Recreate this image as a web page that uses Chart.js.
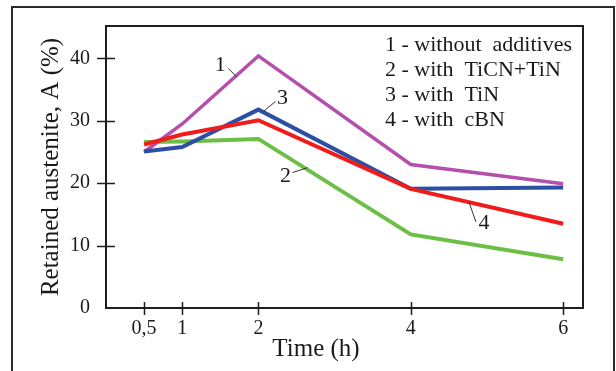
<!DOCTYPE html>
<html>
<head>
<meta charset="utf-8">
<script src="https://cdn.jsdelivr.net/npm/chart.js@4.4.1/dist/chart.umd.min.js"></script>
<style>
  html, body { margin: 0; padding: 0; background: #fff; overflow: hidden; }
  #wrap { position: relative; width: 616px; height: 371px; }
  #frame { position: absolute; left: 11px; top: 6px; width: 600px; height: 420px; border: 2px solid #2b2b2b; pointer-events: none; }
  canvas { position: absolute; left: 0; top: 0; }
</style>
</head>
<body>
<div id="wrap">
  <canvas id="chart" width="616" height="371"></canvas>
  <div id="frame"></div>
</div>
<script>
const timeHours = [0.5, 1, 2, 4, 6];
const tickLabels = ['0,5', '1', '2', '4', '6'];
const yTicks = [0, 10, 20, 30, 40];
const seriesNames = ['1 - without  additives', '2 - with  TiCN+TiN', '3 - with  TiN', '4 - with  cBN'];
const withoutAdditives = [25.0, 29.5, 40.4, 23.0, 19.9];
const withTiCN = [26.6, 26.7, 27.1, 11.8, 7.8];
const withTiN = [25.1, 25.8, 31.8, 19.1, 19.3];
const withCBN = [26.2, 27.8, 30.1, 19.1, 13.5];
const lineColors = ['#b54fae', '#6cbf45', '#2c4fa3', '#f01c1c'];

// curve numbers with their little leader lines (data units)
const curveNumbers = ['1', '2', '3', '4'];
const numberAt = [[1.5, 38.9], [2.355, 21.2], [2.316, 33.7], [4.96, 13.65]];
const leaderFrom = [[1.605, 38.4], [2.447, 21.7], [2.224, 33.1], [4.855, 13.8]];
const leaderTo = [[1.71, 37.1], [2.645, 22.5], [2.066, 31.5], [4.763, 17.0]];

const serif = '"Liberation Serif", "Times New Roman", serif';
const textColor = '#1a1a1a';

const allSeries = [withoutAdditives, withTiCN, withTiN, withCBN];
const drawOrder = [3, 4, 2, 1];

const decor = {
    id: 'decor',
    afterDatasetsDraw(chart) {
        const { ctx, chartArea: a, scales: { x, y } } = chart;
        ctx.save();
        ctx.strokeStyle = '#1e1e1e';
        ctx.lineWidth = 2;
        ctx.strokeRect(a.left, a.top, a.right - a.left, a.bottom - a.top);

        // ticks crossing the axes
        ctx.lineWidth = 1.5;
        ctx.beginPath();
        timeHours.forEach(t => {
            const px = Math.round(x.getPixelForValue(t)) + 0.5;
            ctx.moveTo(px, a.bottom - 6);
            ctx.lineTo(px, a.bottom + 7);
        });
        yTicks.slice(1).forEach(v => {
            const py = Math.round(y.getPixelForValue(v)) + 0.5;
            ctx.moveTo(a.left - 9, py);
            ctx.lineTo(a.left + 9, py);
        });
        ctx.stroke();

        // leader lines
        ctx.lineWidth = 1;
        ctx.strokeStyle = '#333';
        ctx.beginPath();
        leaderFrom.forEach((p, i) => {
            ctx.moveTo(x.getPixelForValue(p[0]), y.getPixelForValue(p[1]));
            ctx.lineTo(x.getPixelForValue(leaderTo[i][0]), y.getPixelForValue(leaderTo[i][1]));
        });
        ctx.stroke();

        ctx.fillStyle = textColor;
        ctx.font = '22px ' + serif;
        ctx.textAlign = 'center';
        ctx.textBaseline = 'middle';
        curveNumbers.forEach((n, i) => {
            ctx.fillText(n, x.getPixelForValue(numberAt[i][0]), y.getPixelForValue(numberAt[i][1]));
        });

        // legend text
        ctx.textAlign = 'left';
        ctx.font = '22px ' + serif;
        seriesNames.forEach((s, i) => {
            ctx.fillText(s, 385, 45 + i * 25);
        });

        // x title sits left of centre in the original
        ctx.textAlign = 'center';
        ctx.font = '25px ' + serif;
        ctx.fillText('Time (h)', 316, 349);
        ctx.restore();
    }
};

new Chart(document.getElementById('chart'), {
    type: 'line',
    data: {
        datasets: allSeries.map((vals, i) => ({
            label: seriesNames[i],
            data: timeHours.map((t, j) => ({ x: t, y: vals[j] })),
            borderColor: lineColors[i],
            borderWidth: i === 0 ? 3.5 : 4,
            pointRadius: 0,
            tension: 0,
            fill: false,
            borderJoinStyle: 'miter',
            order: drawOrder[i]
        }))
    },
    options: {
        responsive: false,
        animation: false,
        layout: { padding: { top: 26, right: 33, left: 0, bottom: 0 } },
        plugins: { legend: { display: false }, tooltip: { enabled: false } },
        scales: {
            x: {
                type: 'linear',
                min: 0,
                max: 6.26,
                grid: { display: false },
                border: { display: false },
                afterBuildTicks: s => { s.ticks = timeHours.map(v => ({ value: v })); },
                afterFit: s => { s.height = 63; },
                ticks: {
                    autoSkip: false,
                    maxRotation: 0,
                    padding: 1,
                    color: textColor,
                    font: { family: serif, size: 20 },
                    callback: v => tickLabels[timeHours.indexOf(v)]
                }
            },
            y: {
                min: 0,
                max: 45.2,
                grid: { display: false },
                border: { display: false },
                afterBuildTicks: s => { s.ticks = yTicks.map(v => ({ value: v })); },
                afterFit: s => { s.width = 106; },
                ticks: {
                    padding: 8,
                    color: textColor,
                    font: { family: serif, size: 20 }
                },
                title: {
                    display: true,
                    text: 'Retained austenite, A (%)',
                    color: textColor,
                    font: { family: serif, size: 25 },
                    padding: { top: 36, bottom: 0 }
                }
            }
        }
    },
    plugins: [decor]
});
</script>
</body>
</html>
